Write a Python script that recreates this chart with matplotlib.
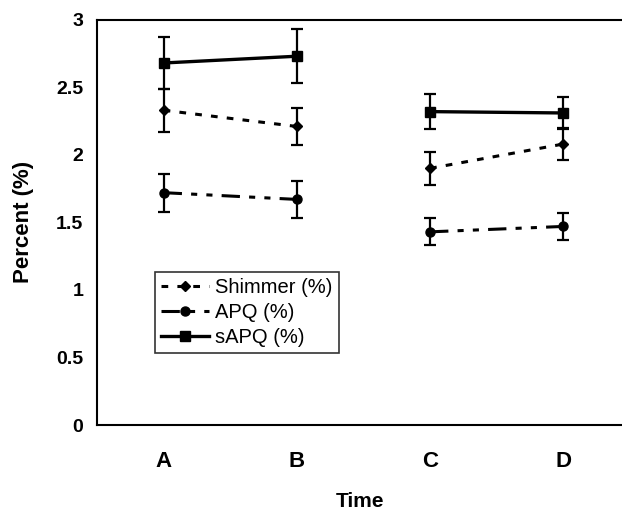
import numpy as np
import matplotlib.pyplot as plt

# values
times = ['A', 'B', 'C', 'D']
shimmer = [2.33, 2.21, 1.90, 2.08]
shimmer_err = [0.16, 0.14, 0.12, 0.12]
apq = [1.72, 1.67, 1.43, 1.47]
apq_err = [0.14, 0.14, 0.10, 0.10]
sapq = [2.68, 2.73, 2.32, 2.31]
sapq_err = [0.19, 0.20, 0.13, 0.12]

plt.rcParams['font.family'] = ['Liberation Sans', 'DejaVu Sans']

fig = plt.figure(figsize=(6.22, 5.13), dpi=100)
ax = fig.add_axes([0.156, 0.1715, 0.846, 0.79])

x = np.arange(len(times))
groups = [slice(0, 2), slice(2, 4)]

series = [
    ('Shimmer (%)', shimmer, shimmer_err, 'D', 5, (0, (2.2, 3.0)), 2.2),
    ('APQ (%)', apq, apq_err, 'o', 6.5, (0, (6, 3, 2, 3, 2, 3)), 2.2),
    ('sAPQ (%)', sapq, sapq_err, 's', 6.5, '-', 2.4),
]

handles = []
for name, vals, errs, mk, ms, ls, lw in series:
    vals = np.array(vals)
    errs = np.array(errs)
    for g in groups:
        ax.errorbar(x[g], vals[g], yerr=errs[g], color='black', marker=mk,
                    markersize=ms, linestyle=ls, linewidth=lw,
                    elinewidth=1.6, capsize=4.5, capthick=1.6)
    h, = ax.plot([], [], color='black', marker=mk, markersize=ms,
                 linestyle=ls, linewidth=lw, label=name)
    handles.append(h)

ax.set_xlim(-0.5, 3.45)
ax.set_ylim(0, 3)
ax.set_xticks(x)
ax.set_xticklabels(times, fontsize=16, fontweight='bold')
ax.set_yticks([0, 0.5, 1, 1.5, 2, 2.5, 3])
ax.set_yticklabels(['0', '0.5', '1', '1.5', '2', '2.5', '3'], fontsize=14, fontweight='bold')
ax.tick_params(length=0, pad=10)
ax.tick_params(axis='x', pad=19)
ax.set_xlabel('Time', fontsize=15, fontweight='bold', labelpad=14)
ax.set_ylabel('Percent (%)', fontsize=16, fontweight='bold', labelpad=16)
for s in ['left', 'top', 'bottom']:
    ax.spines[s].set_linewidth(1.5)
ax.spines['right'].set_visible(False)

leg = ax.legend(handles=handles, loc='upper left', bbox_to_anchor=(0.11, 0.378),
                fontsize=14.5, frameon=True, fancybox=False, borderaxespad=0,
                handlelength=2.4, handletextpad=0.3, labelspacing=0.3,
                borderpad=0.3)
leg.get_frame().set_edgecolor('black')
leg.get_frame().set_linewidth(1.2)

fig.savefig('out.png', dpi=100)
